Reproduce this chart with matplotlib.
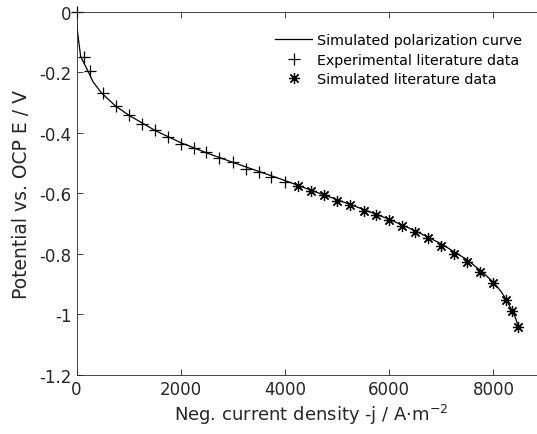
import matplotlib
matplotlib.use("Agg")
import matplotlib.pyplot as plt

# ---------- DATA ----------
sim_j = [0, 5, 20, 80, 230, 320, 480, 750, 1000, 1500, 2000, 2500, 3000, 3500,
         4000, 4500, 5000, 5500, 6000, 6500, 7000, 7500, 7800, 8000, 8150,
         8250, 8350, 8420, 8480]
sim_E = [0, -0.03, -0.068, -0.149, -0.2, -0.233, -0.269, -0.312, -0.342, -0.392,
         -0.433, -0.467, -0.498, -0.528, -0.558, -0.59, -0.621, -0.653, -0.686,
         -0.724, -0.767, -0.82, -0.862, -0.894, -0.925, -0.952, -0.985, -1.01,
         -1.04]

exp_j = [0, 140, 268, 512, 761, 1010, 1260, 1509, 1752, 2000, 2250, 2493, 2742,
         2997, 3246, 3496, 3742, 3992]
exp_E = [0, -0.149, -0.198, -0.269, -0.311, -0.341, -0.372, -0.39, -0.415,
         -0.436, -0.452, -0.465, -0.483, -0.497, -0.519, -0.53, -0.548, -0.562]

lit_j = [4244, 4500, 4756, 5005, 5254, 5509, 5753, 6002, 6251, 6500, 6750, 6993,
         7248, 7497, 7741, 8002, 8239, 8366, 8481]
lit_E = [-0.576, -0.593, -0.606, -0.625, -0.639, -0.657, -0.671, -0.689, -0.707,
         -0.727, -0.748, -0.774, -0.799, -0.827, -0.859, -0.896, -0.953, -0.988,
         -1.04]

xticks = [0, 2000, 4000, 6000, 8000]
yticks = [0, -0.2, -0.4, -0.6, -0.8, -1, -1.2]
ytick_labels = ["0", "-0.2", "-0.4", "-0.6", "-0.8", "-1", "-1.2"]
# --------------------------

dark = "#262626"
plt.rcParams["font.family"] = "DejaVu Sans"

fig = plt.figure(figsize=(5.37, 4.35), dpi=100)
W, H = 537, 435
left, right, top, bottom = 76.5, 545.5, 12.5, 376
ax = fig.add_axes([left / W, 1 - bottom / H, (right - left) / W, (bottom - top) / H])

ax.plot(sim_j, sim_E, color="black", lw=0.9, label="Simulated polarization curve")
ax.plot(exp_j, exp_E, ls="none", marker="+", ms=8, mew=0.9, color="black",
        label="Experimental literature data", clip_on=False)
ax.plot(lit_j, lit_E, ls="none", marker=(8, 2, 0), ms=8, mew=0.9, color="black",
        label="Simulated literature data", clip_on=False)

ax.set_xlim(0, 9000)
ax.set_ylim(-1.2, 0)
ax.set_xticks(xticks)
ax.set_yticks(yticks)
ax.set_yticklabels(ytick_labels)
ax.tick_params(direction="in", length=4, width=0.6, colors=dark, labelsize=12,
               top=True, right=True)
for s in ax.spines.values():
    s.set_color(dark)
    s.set_linewidth(0.6)

ax.set_xlabel("Neg. current density -j / A\u00b7m$^{-2}$", fontsize=13, color=dark,
              labelpad=3)
ax.set_ylabel("Potential vs. OCP E / V", fontsize=13.5, color=dark, labelpad=6)

ax.legend(loc="upper left", bbox_to_anchor=(268 / W, 1 - 27 / H),
          bbox_transform=fig.transFigure, frameon=False, fontsize=10.3,
          handlelength=2.6, handletextpad=0.3, labelspacing=0.38, borderpad=0)

fig.savefig("out.png", dpi=100)
